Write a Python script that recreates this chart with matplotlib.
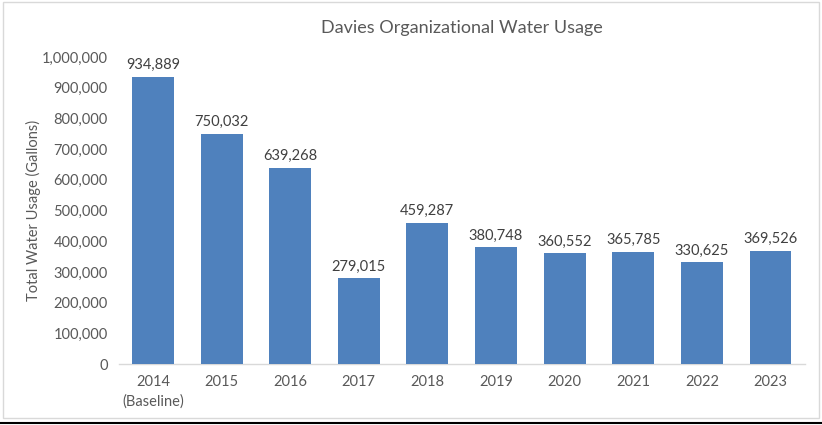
import matplotlib
matplotlib.use("Agg")
import matplotlib.pyplot as plt
from matplotlib.patches import Rectangle
from matplotlib.lines import Line2D
from matplotlib.ticker import FuncFormatter

categories = ["2014\n(Baseline)", "2015", "2016", "2017", "2018", "2019", "2020", "2021", "2022", "2023"]
usage = [934889, 750032, 639268, 279015, 459287, 380748, 360552, 365785, 330625, 369526]
yticks = [0, 100000, 200000, 300000, 400000, 500000, 600000, 700000, 800000, 900000, 1000000]

plt.rcParams['font.family'] = ['Lato', 'DejaVu Sans']
txt = '#595959'

fig = plt.figure(figsize=(8.22, 4.25), dpi=100)
ax = fig.add_axes([0.1444, 0.1435, 0.8346, 0.7225])
x = list(range(len(categories)))
bars = ax.bar(x, usage, width=0.61, color='#4F81BD', zorder=3)
for xi, v in zip(x, usage):
    ax.text(xi, v + 15000, f"{v:,}", ha='center', va='bottom', fontsize=10.5, color='#404040')

ax.set_xlim(-0.5, len(categories) - 0.5)
ax.set_ylim(0, 1000000)
ax.set_yticks(yticks)
ax.yaxis.set_major_formatter(FuncFormatter(lambda v, p: f"{int(v):,}"))
ax.set_xticks(x)
ax.set_xticklabels(categories, linespacing=1.45)
ax.tick_params(axis='both', length=0, colors=txt, labelsize=10.5)
ax.tick_params(axis='x', pad=8)
ax.tick_params(axis='y', pad=8)
for s in ['top', 'right', 'left']:
    ax.spines[s].set_visible(False)
ax.spines['bottom'].set_color('#D9D9D9')
ax.spines['bottom'].set_linewidth(1)
fig.text(33/822, 1 - 210/425, "Total Water Usage (Gallons)", rotation=90, ha='center', va='center',
         fontsize=10.5, color=txt)
fig.text(0.562, 0.934, "Davies Organizational Water Usage", ha='center', va='center', fontsize=13, color=txt)

fig.patches.append(Rectangle((3/822, 1 - 418/425), 816/822, 416/425, transform=fig.transFigure,
                             fill=False, edgecolor='#D9D9D9', linewidth=1))
fig.lines.append(Line2D([0, 1], [1 - 423/425, 1 - 423/425], transform=fig.transFigure, color='black', linewidth=1.5))

fig.savefig("out.png", dpi=100)
